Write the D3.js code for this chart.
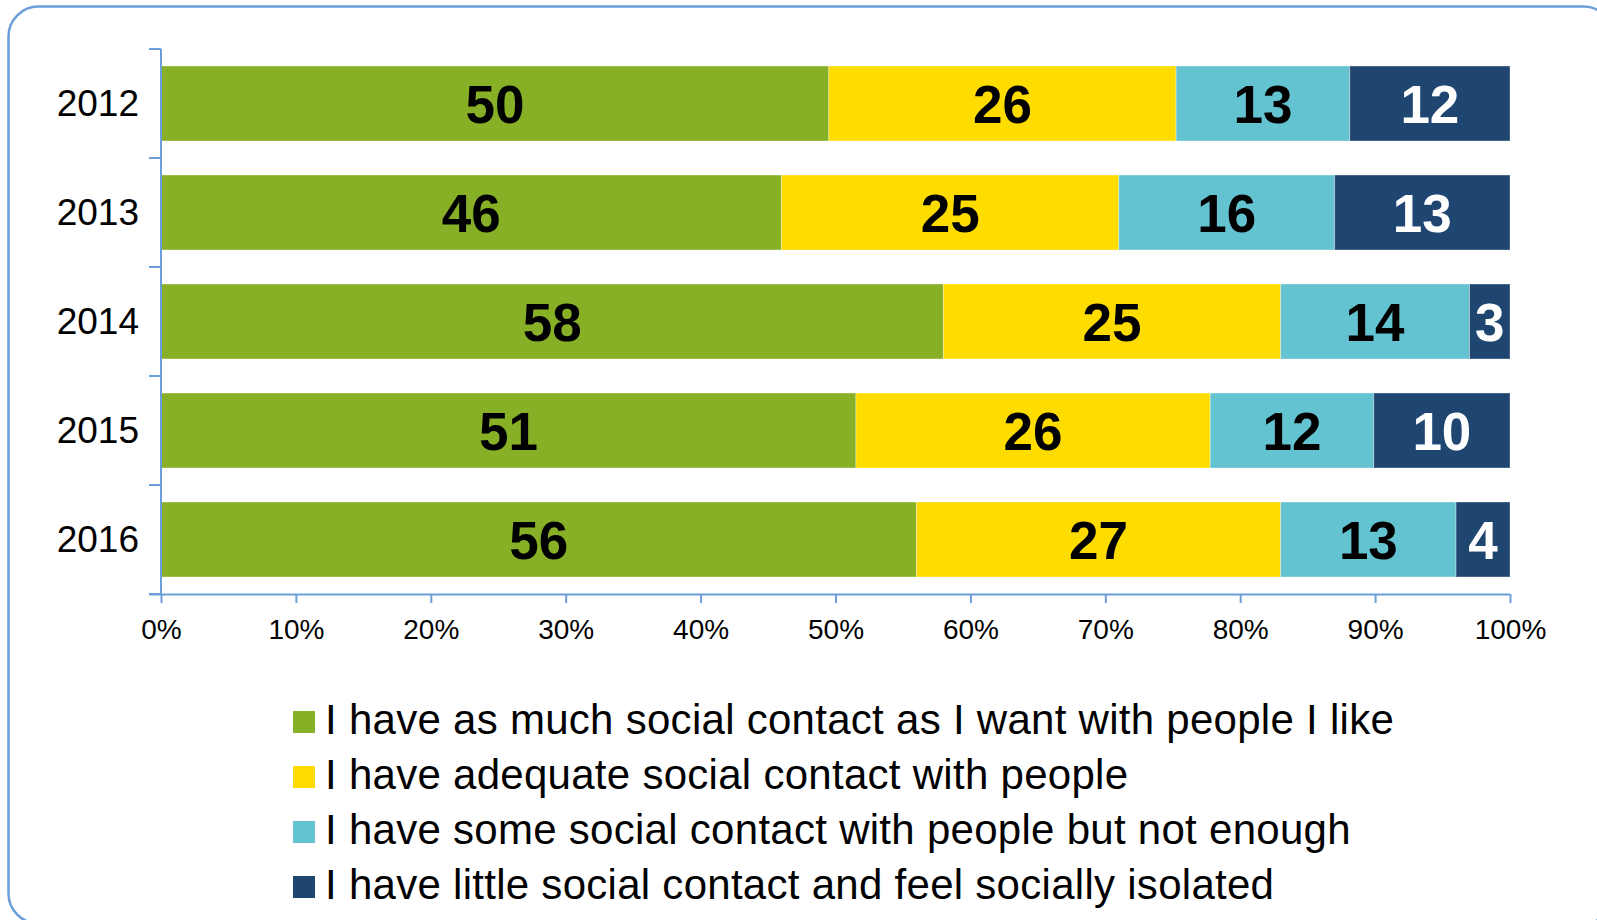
<!DOCTYPE html>
<html>
<head>
<meta charset="utf-8">
<script src="https://cdn.jsdelivr.net/npm/d3@7"></script>
<style>
  html, body { margin: 0; padding: 0; background: #ffffff; }
  svg { display: block; font-family: "Liberation Sans", Arial, sans-serif; }
</style>
</head>
<body>
<svg id="chart" width="1597" height="920"></svg>
<script>
// Survey years (one bar each)
const years = ["2012", "2013", "2014", "2015", "2016"];

// Answer categories, in stacking order
const categories = [
  "I have as much social contact as I want with people I like",
  "I have adequate social contact with people",
  "I have some social contact with people but not enough",
  "I have little social contact and feel socially isolated"
];

// Percentages per category, one value per year
const asMuchAsWanted = [50, 46, 58, 51, 56];
const adequate       = [26, 25, 25, 26, 27];
const notEnough      = [13, 16, 14, 12, 13];
const isolated       = [12, 13, 3, 10, 4];

const seriesValues = [asMuchAsWanted, adequate, notEnough, isolated];

// Value axis tick labels
const tickValues = [0, 0.1, 0.2, 0.3, 0.4, 0.5, 0.6, 0.7, 0.8, 0.9, 1.0];
const tickLabels = ["0%", "10%", "20%", "30%", "40%", "50%", "60%", "70%", "80%", "90%", "100%"];

const colors = ["#88B027", "#FFDC00", "#63C3D0", "#1F4670"];
const labelColors = ["#000000", "#000000", "#000000", "#ffffff"];
const axisColor = "#6A9FD9";

const svg = d3.select("#chart");

// Rounded frame around the chart
svg.append("rect")
  .attr("x", 8.5).attr("y", 6.5)
  .attr("width", 1605).attr("height", 917)
  .attr("rx", 30).attr("ry", 30)
  .attr("fill", "none")
  .attr("stroke", axisColor)
  .attr("stroke-width", 2.5);

const x = d3.scaleLinear().domain([0, 1]).range([161, 1510]);
const y = d3.scaleBand().domain(years).range([49, 594])
  .paddingInner(0.312).paddingOuter(0.156);

// Build rows: each year normalised to 100% stacked
const rows = years.map((yr, i) => {
  const row = { year: yr };
  categories.forEach((c, k) => { row[c] = seriesValues[k][i]; });
  return row;
});
const stack = d3.stack().keys(categories).offset(d3.stackOffsetExpand);
const stacked = stack(rows);

const g = svg.append("g");
stacked.forEach((layer, k) => {
  const lg = g.append("g");
  lg.selectAll("rect")
    .data(layer)
    .join("rect")
    .attr("x", d => x(d[0]))
    .attr("y", d => y(d.data.year))
    .attr("width", d => x(d[1]) - x(d[0]))
    .attr("height", y.bandwidth())
    .attr("fill", colors[k])
    .attr("stroke", "#ffffff")
    .attr("stroke-opacity", 0.35)
    .attr("stroke-width", 1);

  lg.selectAll("text")
    .data(layer)
    .join("text")
    .attr("x", d => (x(d[0]) + x(d[1])) / 2)
    .attr("y", d => y(d.data.year) + y.bandwidth() / 2)
    .attr("dy", "0.36em")
    .attr("text-anchor", "middle")
    .attr("font-size", 53)
    .attr("font-weight", "bold")
    .attr("fill", labelColors[k])
    .text(d => d.data[layer.key]);
});

// Category axis (left): line plus ticks at band boundaries
const yAxis = svg.append("g");
yAxis.append("line")
  .attr("x1", x(0)).attr("x2", x(0))
  .attr("y1", y.range()[0]).attr("y2", y.range()[1])
  .attr("stroke", axisColor).attr("stroke-width", 2);
const bounds = years.map(yr => y(yr) - y.step() * y.paddingInner() / 2);
bounds.push(y.range()[1]);
yAxis.selectAll("line.tick")
  .data(bounds)
  .join("line")
  .attr("class", "tick")
  .attr("x1", x(0) - 12).attr("x2", x(0))
  .attr("y1", d => d).attr("y2", d => d)
  .attr("stroke", axisColor).attr("stroke-width", 2);
yAxis.selectAll("text")
  .data(years)
  .join("text")
  .attr("x", 139)
  .attr("y", d => y(d) + y.bandwidth() / 2 - 1)
  .attr("dy", "0.36em")
  .attr("text-anchor", "end")
  .attr("font-size", 37)
  .attr("fill", "#000")
  .text(d => d);

// Value axis (bottom)
const xAxisG = svg.append("g")
  .attr("transform", `translate(0,${y.range()[1]})`)
  .call(d3.axisBottom(x)
    .tickValues(tickValues)
    .tickFormat((d, i) => tickLabels[i])
    .tickSizeInner(9)
    .tickSizeOuter(0)
    .tickPadding(16));
xAxisG.select(".domain")
  .attr("d", `M${x(0) - 12},0.5H${x(1)}`)
  .attr("stroke", axisColor).attr("stroke-width", 2);
xAxisG.selectAll(".tick line").attr("stroke", axisColor).attr("stroke-width", 2);
xAxisG.selectAll(".tick text")
  .attr("font-size", 28)
  .attr("font-family", "Liberation Sans, Arial, sans-serif")
  .attr("fill", "#000");

// Legend
const legend = svg.append("g");
categories.forEach((c, k) => {
  const base = 734 + k * 55;
  legend.append("rect")
    .attr("x", 293).attr("y", base - 23)
    .attr("width", 22).attr("height", 22)
    .attr("fill", colors[k]);
  legend.append("text")
    .attr("x", 325).attr("y", base)
    .attr("font-size", 42)
    .attr("letter-spacing", 0.28)
    .attr("fill", "#000")
    .text(c);
});
</script>
</body>
</html>
